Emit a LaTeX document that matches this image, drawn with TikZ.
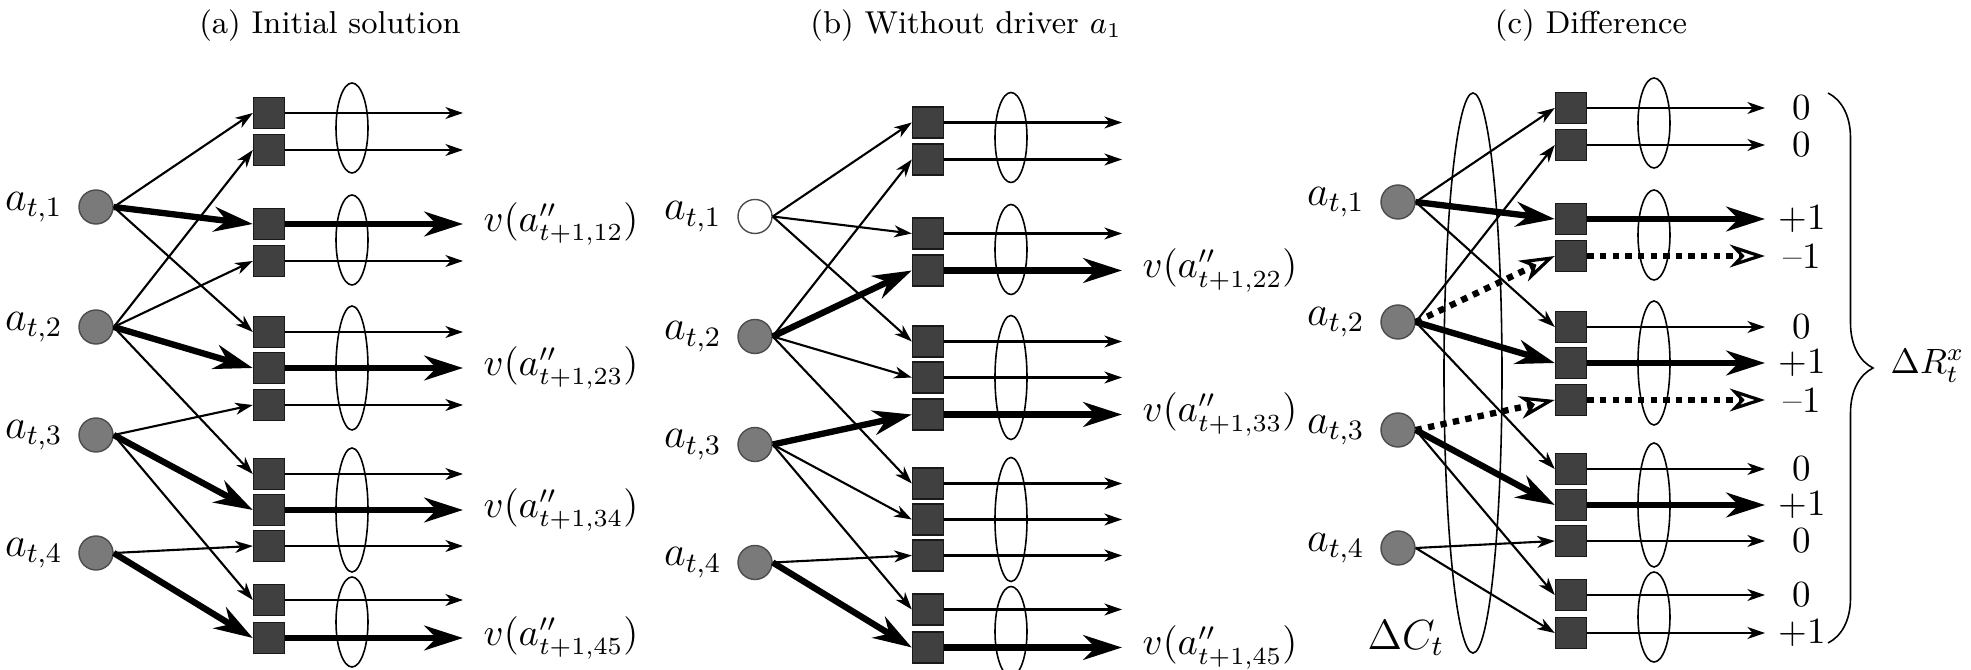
\documentclass[tikz,border=0pt]{standalone}
\usetikzlibrary{positioning,arrows.meta,decorations.pathreplacing}

\begin{document}
\begin{tikzpicture}[x=0.01cm,y=-0.01cm,node distance=0.15cm,
    res/.style={circle,draw=black!70,fill=black!52,minimum size=0.34cm,inner sep=0pt},
    idle/.style={res,fill=white},
    dec/.style={draw=black!90,fill=black!75,minimum size=0.31cm,inner sep=0pt},
    lbl/.style={inner sep=0pt,font=\fontsize{11.5}{14}\selectfont},
    val/.style={inner sep=0pt,font=\fontsize{10.5}{12}\selectfont},
    ttl/.style={font=\fontsize{9}{11}\selectfont},
    arc/.style={line width=0.6pt,-{Stealth[length=5pt,width=3.4pt,inset=1.5pt]}},
    best/.style={line width=1.8pt,-{Stealth[length=11pt,width=7pt,inset=3.5pt]}},
    lost/.style={line width=1.8pt,dash pattern=on 1.8pt off 1.8pt,
      -{Stealth[open,length=10pt,width=6.5pt,inset=3pt,line width=0.9pt,fill=white]}},
    grp/.style={line width=0.45pt}]
  \useasboundingbox (0,0) rectangle (1971,670);

  % titles
  \node[ttl] (ta) at (330,26) {(a) Initial solution};
  \node[ttl] (tb) at (966,26) {(b) Without driver $a_1$};
  \node[ttl] (tc) at (1591,26) {(c) Difference};

  % same frame in the three panels
  \foreach \p/\dx/\dy/\first in {pa/0/0/res,pb/659/9.5/idle,pc/1302/-5/res}{
    \begin{scope}[shift={(\dx,\dy)}]
      \foreach \y [count=\i] in {113,150,224,261,332,368,405,474,510,546,600,638}{
        \node[dec] (\p-s\i) at (269,\y) {};
        \coordinate (\p-e\i) at (463,\y);
      }
      \foreach \cy/\ry in {128/45,240/45,368/62,510/62,622/45}
        \draw[grp] (352,\cy) ellipse [x radius=16,y radius=\ry];
      \node[\first] (\p-r1) at (96,207) {};
      \node[res] (\p-r2) at (96,327) {};
      \node[res] (\p-r3) at (96,435) {};
      \node[res] (\p-r4) at (96,553) {};
      \foreach \i in {1,...,4}
        \node[lbl,left=of \p-r\i] (\p-n\i) {$a_{t,\i}$};
    \end{scope}
  }

  % (a) initial solution
  \foreach \src/\dst/\sty in {1/1/arc,1/3/best,1/5/arc,2/2/arc,2/4/arc,2/6/best,2/8/arc,
      3/7/arc,3/9/best,3/11/arc,4/10/arc,4/12/best}
    \draw[\sty] (pa-r\src.east) -- (pa-s\dst.west);
  \foreach \dst/\sty in {1/arc,2/arc,3/best,4/arc,5/arc,6/best,7/arc,8/arc,9/best,10/arc,11/arc,12/best}
    \draw[\sty] (pa-s\dst.east) -- (pa-e\dst);
  \node[val,right=0.2cm of pa-e3] (pa-v3) {$v(a''_{t+1,12})$};
  \node[val,right=0.2cm of pa-e6] (pa-v6) {$v(a''_{t+1,23})$};
  \node[val,right=0.2cm of pa-e9] (pa-v9) {$v(a''_{t+1,34})$};
  \node[val,right=0.2cm of pa-e12] (pa-v12) {$v(a''_{t+1,45})$};

  % (b) without driver a1
  \foreach \src/\dst/\sty in {1/1/arc,1/3/arc,1/5/arc,2/2/arc,2/4/best,2/6/arc,2/8/arc,
      3/7/best,3/9/arc,3/11/arc,4/10/arc,4/12/best}
    \draw[\sty] (pb-r\src.east) -- (pb-s\dst.west);
  \foreach \dst/\sty in {1/arc,2/arc,3/arc,4/best,5/arc,6/arc,7/best,8/arc,9/arc,10/arc,11/arc,12/best}
    \draw[\sty] (pb-s\dst.east) -- (pb-e\dst);
  \node[val,right=0.2cm of pb-e4] (pb-v4) {$v(a''_{t+1,22})$};
  \node[val,right=0.2cm of pb-e7] (pb-v7) {$v(a''_{t+1,33})$};
  \node[val,right=0.2cm of pb-e12] (pb-v12) {$v(a''_{t+1,45})$};

  % (c) difference
  \draw[grp] (1473,373) ellipse [x radius=29,y radius=280];
  \node[lbl] (dc) at (1406,638) {$\Delta C_t$};
  \foreach \src/\dst/\sty in {1/1/arc,1/3/best,1/5/arc,2/2/arc,2/4/lost,2/6/best,2/8/arc,
      3/7/lost,3/9/best,3/11/arc,4/10/arc,4/12/arc}
    \draw[\sty] (pc-r\src.east) -- (pc-s\dst.west);
  \foreach \dst/\sty/\num in {1/arc/0,2/arc/0,3/best/+1,4/lost/\textendash1,5/arc/0,6/best/+1,
      7/lost/\textendash1,8/arc/0,9/best/+1,10/arc/0,11/arc/0,12/arc/+1}{
    \draw[\sty] (pc-s\dst.east) -- (pc-e\dst);
    \node[val,xshift=0.37cm] (pc-d\dst) at (pc-e\dst) {\num};
  }
  \coordinate (bt) at (1828,93);
  \coordinate (bb) at (1828,643);
  \draw[grp,decorate,decoration={brace,amplitude=0.45cm}] (bt) -- (bb);
  \node[val,font=\fontsize{10}{12}\selectfont,anchor=west] (dr) at (1890,366) {$\Delta R_t^x$};
\end{tikzpicture}
\end{document}
